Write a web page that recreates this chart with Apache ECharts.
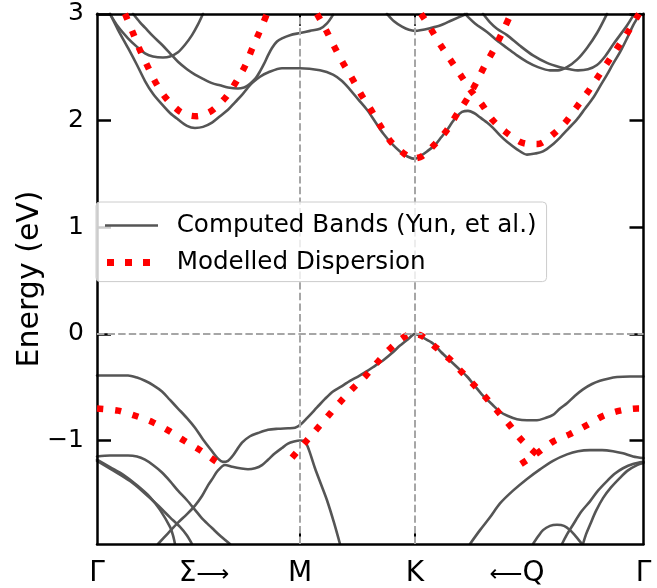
<!DOCTYPE html>
<html><head><meta charset="utf-8">
<script src="https://cdn.jsdelivr.net/npm/echarts@6/dist/echarts.min.js"></script>
<style>html,body{margin:0;padding:0;background:#fff}#c{width:657px;height:588px}</style>
</head><body><div id="c"></div>
<script>
// ---- axis / labels ----
const X_MAX = 5.465;
const tickPositions = [0, 1.07, 2.03, 3.18, 4.20, 5.465];
const tickNames = ['Γ', 'Σ{arr|⟶}', 'M', 'K', '{arr|⟵}Q', 'Γ'];
const symPoints = [2.03, 3.18];
const yTicks = [-1, 0, 1, 2, 3];
const Y_MIN = -1.97, Y_MAX = 3;

// ---- computed bands (Yun, et al.) : [k, E(eV)] ----
const cb1 = [[0.13,3.0],[0.21,2.85],[0.31,2.68],[0.40,2.52],[0.48,2.37],[0.56,2.25],[0.65,2.15],[0.73,2.07],[0.81,2.01],[0.90,1.95],[0.98,1.93],[1.06,1.94],[1.15,1.98],[1.23,2.04],[1.31,2.10],[1.38,2.17],[1.45,2.24],[1.51,2.31],[1.55,2.35],[1.63,2.41],[1.71,2.45],[1.85,2.49],[2.03,2.49],[2.23,2.47],[2.36,2.43],[2.45,2.37],[2.53,2.29],[2.61,2.20],[2.70,2.10],[2.78,1.99],[2.86,1.88],[2.95,1.78],[3.03,1.71],[3.11,1.66],[3.18,1.64],[3.23,1.665],[3.30,1.71],[3.38,1.77],[3.44,1.84],[3.50,1.91],[3.55,1.98],[3.60,2.04],[3.65,2.08],[3.71,2.09],[3.77,2.07],[3.83,2.03],[3.90,1.98],[3.96,1.93],[4.03,1.86],[4.10,1.80],[4.20,1.73],[4.30,1.68],[4.38,1.69],[4.46,1.71],[4.55,1.77],[4.63,1.84],[4.71,1.92],[4.80,2.01],[4.88,2.11],[4.96,2.21],[5.03,2.32],[5.10,2.43],[5.16,2.53],[5.23,2.64],[5.30,2.77],[5.36,2.89],[5.41,2.97],[5.43,3.0]];
const cb2 = [[0.36,3.0],[0.43,2.92],[0.48,2.87],[0.56,2.79],[0.65,2.71],[0.73,2.63],[0.81,2.55],[0.90,2.48],[0.98,2.43],[1.06,2.39],[1.15,2.35],[1.23,2.33],[1.31,2.31],[1.41,2.30],[1.47,2.31],[1.51,2.33],[1.55,2.36],[1.59,2.40],[1.63,2.46],[1.67,2.53],[1.71,2.61],[1.75,2.68],[1.80,2.74],[1.85,2.77],[1.93,2.80],[2.03,2.82],[2.13,2.84],[2.23,2.86],[2.30,2.91],[2.36,2.99]];
const cb3 = [[0.13,3.0],[0.21,2.88],[0.31,2.77],[0.40,2.69],[0.48,2.63],[0.56,2.60],[0.66,2.59],[0.73,2.60],[0.81,2.64],[0.88,2.71],[0.95,2.80],[1.01,2.90],[1.06,3.0]];
const cb4 = [[2.90,3.0],[2.97,2.93],[3.05,2.88],[3.12,2.85],[3.18,2.84],[3.23,2.845],[3.33,2.865],[3.43,2.89],[3.55,2.94],[3.70,3.0]];
const cb5 = [[3.68,3.0],[3.78,2.91],[3.90,2.83],[4.00,2.75],[4.10,2.68],[4.20,2.61],[4.30,2.55],[4.41,2.50],[4.53,2.47],[4.61,2.47],[4.70,2.50],[4.80,2.57],[4.90,2.68],[5.00,2.82],[5.10,3.0]];
const cb6 = [[3.86,3.0],[3.93,2.92],[4.00,2.86],[4.10,2.80],[4.23,2.70],[4.36,2.61],[4.50,2.54],[4.63,2.50],[4.73,2.48],[4.81,2.47],[4.91,2.48],[5.00,2.52],[5.08,2.60],[5.16,2.71],[5.23,2.80],[5.30,2.89],[5.36,2.98]];
const vb1 = [[0,-0.39],[0.13,-0.39],[0.31,-0.39],[0.40,-0.41],[0.48,-0.44],[0.56,-0.48],[0.65,-0.54],[0.73,-0.62],[0.81,-0.70],[0.90,-0.79],[0.98,-0.88],[1.06,-0.99],[1.15,-1.10],[1.21,-1.17],[1.26,-1.20],[1.31,-1.19],[1.36,-1.14],[1.45,-1.02],[1.53,-0.96],[1.61,-0.93],[1.71,-0.90],[1.81,-0.89],[1.91,-0.885],[1.98,-0.88],[2.03,-0.855],[2.10,-0.79],[2.20,-0.69],[2.28,-0.61],[2.36,-0.54],[2.45,-0.49],[2.53,-0.44],[2.61,-0.40],[2.70,-0.35],[2.78,-0.30],[2.86,-0.25],[2.95,-0.18],[3.03,-0.11],[3.11,-0.05],[3.18,0.0],[3.27,-0.04],[3.36,-0.09],[3.44,-0.17],[3.53,-0.25],[3.61,-0.32],[3.70,-0.40],[3.78,-0.49],[3.86,-0.58],[3.95,-0.66],[4.03,-0.73],[4.11,-0.77],[4.20,-0.80],[4.30,-0.81],[4.40,-0.81],[4.48,-0.79],[4.56,-0.76],[4.63,-0.70],[4.70,-0.65],[4.78,-0.58],[4.86,-0.52],[4.95,-0.47],[5.03,-0.44],[5.11,-0.42],[5.20,-0.405],[5.33,-0.40],[5.465,-0.40]];
const vb2 = [[0.61,-1.97],[0.71,-1.87],[0.81,-1.77],[0.90,-1.69],[0.98,-1.61],[1.05,-1.52],[1.11,-1.42],[1.16,-1.35],[1.21,-1.28],[1.28,-1.23],[1.35,-1.245],[1.43,-1.26],[1.51,-1.27],[1.58,-1.26],[1.65,-1.23],[1.71,-1.18],[1.78,-1.12],[1.85,-1.07],[1.91,-1.03],[1.97,-1.01],[2.03,-1.00],[2.08,-1.01],[2.12,-1.09],[2.18,-1.26],[2.24,-1.41],[2.30,-1.56],[2.37,-1.77],[2.43,-1.97]];
const vb3 = [[0,-1.15],[0.13,-1.14],[0.31,-1.14],[0.40,-1.15],[0.48,-1.18],[0.56,-1.23],[0.65,-1.30],[0.73,-1.38],[0.81,-1.47],[0.90,-1.56],[0.98,-1.65],[1.06,-1.74],[1.15,-1.82],[1.24,-1.90],[1.33,-1.97]];
const vb4 = [[0,-1.18],[0.13,-1.25],[0.26,-1.32],[0.40,-1.42],[0.53,-1.53],[0.63,-1.65],[0.73,-1.81],[0.76,-1.89],[0.78,-1.97]];
const vb5 = [[0,-1.19],[0.16,-1.28],[0.33,-1.38],[0.46,-1.48],[0.60,-1.60],[0.73,-1.72],[0.83,-1.81],[0.90,-1.89],[0.95,-1.97]];
const vb6 = [[3.73,-1.97],[3.83,-1.84],[3.93,-1.72],[4.03,-1.59],[4.16,-1.47],[4.30,-1.36],[4.43,-1.27],[4.56,-1.19],[4.70,-1.13],[4.81,-1.10],[4.93,-1.09],[5.05,-1.09],[5.16,-1.10],[5.26,-1.12],[5.36,-1.15],[5.465,-1.165]];
const vb7 = [[4.36,-1.97],[4.41,-1.90],[4.46,-1.84],[4.53,-1.80],[4.60,-1.79],[4.67,-1.80],[4.73,-1.84],[4.79,-1.90],[4.85,-1.97]];
const vb8 = [[4.65,-1.97],[4.70,-1.88],[4.76,-1.79],[4.84,-1.67],[4.93,-1.57],[5.01,-1.47],[5.10,-1.38],[5.18,-1.31],[5.26,-1.26],[5.36,-1.22],[5.465,-1.20]];
const vb9 = [[4.86,-1.97],[4.89,-1.88],[4.93,-1.79],[4.99,-1.66],[5.06,-1.54],[5.14,-1.44],[5.23,-1.35],[5.31,-1.28],[5.40,-1.23],[5.465,-1.21]];

// ---- modelled dispersion : [k, E(eV)] ----
const md1 = [[0.28,3.0],[0.36,2.82],[0.42,2.68],[0.51,2.50],[0.59,2.35],[0.69,2.21],[0.82,2.09],[0.91,2.05],[1.00,2.04],[1.08,2.06],[1.16,2.10],[1.29,2.22],[1.39,2.36],[1.48,2.51],[1.55,2.67],[1.62,2.82],[1.70,3.0]];
const md2 = [[2.20,3.0],[2.30,2.83],[2.38,2.68],[2.46,2.54],[2.56,2.38],[2.65,2.23],[2.74,2.10],[2.84,1.94],[2.94,1.80],[3.07,1.69],[3.17,1.645],[3.25,1.665],[3.38,1.78],[3.50,1.91],[3.60,2.06],[3.70,2.20],[3.79,2.35],[3.87,2.50],[3.96,2.65],[4.04,2.80],[4.14,3.0]];
const md3 = [[3.24,3.0],[3.35,2.84],[3.44,2.70],[3.54,2.56],[3.64,2.42],[3.74,2.28],[3.85,2.15],[3.96,2.00],[4.09,1.89],[4.23,1.80],[4.32,1.78],[4.41,1.78],[4.56,1.87],[4.69,1.99],[4.80,2.13],[4.91,2.27],[5.01,2.41],[5.11,2.55],[5.21,2.69],[5.31,2.83],[5.42,3.0]];
const md4 = [[0,-0.70],[0.21,-0.72],[0.39,-0.77],[0.56,-0.83],[0.72,-0.91],[0.87,-1.00],[1.03,-1.09],[1.18,-1.19],[1.22,-1.215]];
const md5 = [[1.95,-1.16],[2.08,-1.02],[2.20,-0.89],[2.32,-0.76],[2.44,-0.63],[2.56,-0.51],[2.69,-0.39],[2.81,-0.26],[2.93,-0.14],[3.07,-0.03],[3.16,0.0],[3.25,-0.02],[3.38,-0.12],[3.53,-0.24],[3.65,-0.36],[3.77,-0.48],[3.90,-0.61],[4.02,-0.74],[4.13,-0.86],[4.25,-1.00],[4.41,-1.14]];
const md6 = [[4.24,-1.22],[4.40,-1.12],[4.56,-1.01],[4.73,-0.94],[4.89,-0.86],[5.06,-0.77],[5.23,-0.72],[5.41,-0.70],[5.465,-0.70]];

const NAME_C = 'Computed Bands (Yun, et al.)';
const NAME_M = 'Modelled Dispersion';
const computedBands = [cb1, cb2, cb3, cb4, cb5, cb6, vb1, vb2, vb3, vb4, vb5, vb6, vb7, vb8, vb9];
const modelledBands = [md1, md2, md3, md4, md5, md6];

const FONT = 'DejaVu Sans';
const series = [];
series.push({
  type: 'line', data: [[0, 0]], z: 1, symbol: 'none', silent: true,
  lineStyle: { opacity: 0 },
  markLine: {
    silent: true, symbol: 'none', animation: false, label: { show: false },
    lineStyle: { color: '#a6a6a6', type: [7.4, 3.2], width: 2 },
    emphasis: { disabled: true },
    data: [{ xAxis: symPoints[0] }, { xAxis: symPoints[1] }, { yAxis: 0 }]
  }
});
computedBands.forEach(d => series.push({
  name: NAME_C, type: 'line', data: d, z: 2, symbol: 'none', smooth: 0.3,
  color: '#555555', lineStyle: { color: '#555555', width: 2.6, cap: 'round' },
  emphasis: { disabled: true }
}));
modelledBands.forEach(d => series.push({
  name: NAME_M, type: 'line', data: d, z: 3, symbol: 'none', smooth: 0.3,
  color: '#ff0000', lineStyle: { color: '#ff0000', width: 6.5, type: [6.5, 11.5], cap: 'butt' },
  emphasis: { disabled: true }
}));

const iconLine = 'path://M0,0L0,0M66.7,24L66.7,24M0,10.7H53V13.3H0Z';
const iconDots = 'path://M0,0L0,0M66.7,24L66.7,24M2,8.5H9V15.5H2Z M20,8.5H27V15.5H20Z M38,8.5H45V15.5H38Z';

const frame = { show: true, onZero: false, lineStyle: { color: '#000', width: 2.5 } };
const option = {
  animation: false,
  textStyle: { fontFamily: FONT },
  grid: { left: 97, right: 13.5, top: 13.8, bottom: 41.3, containLabel: false },
  legend: {
    orient: 'vertical', left: 96, top: 202, z: 10,
    padding: [11, 10, 6.6, 9], itemGap: 12, itemWidth: 66.7, itemHeight: 24,
    backgroundColor: 'rgba(255,255,255,0.8)', borderColor: '#cccccc', borderWidth: 1, borderRadius: 4,
    selectedMode: false,
    itemStyle: { borderWidth: 0 },
    textStyle: { fontSize: 24.6, lineHeight: 24, color: '#000', fontFamily: FONT },
    data: [{ name: NAME_C, icon: iconLine }, { name: NAME_M, icon: iconDots }]
  },
  xAxis: [{
    type: 'value', min: 0, max: X_MAX, position: 'bottom', z: 3,
    axisLine: frame,
    axisTick: { show: true, inside: true, length: 12, customValues: symPoints, lineStyle: { color: '#000', width: 2 } },
    axisLabel: {
      show: true, customValues: tickPositions, margin: 16, fontSize: 28, color: '#000', fontFamily: FONT,
      formatter: v => { const i = tickPositions.findIndex(p => Math.abs(p - v) < 1e-6); return i >= 0 ? tickNames[i] : ''; },
      rich: { arr: { fontSize: 23, fontFamily: FONT, color: '#000', padding: [2, 0, 0, 0] } }
    },
    splitLine: { show: false }
  }, {
    type: 'value', min: 0, max: X_MAX, position: 'top', z: 3,
    axisLine: frame,
    axisTick: { show: true, inside: true, length: 12, customValues: symPoints, lineStyle: { color: '#000', width: 2 } },
    axisLabel: { show: false }, splitLine: { show: false }
  }],
  yAxis: [{
    type: 'value', min: Y_MIN, max: Y_MAX, position: 'left', z: 3,
    name: 'Energy (eV)', nameLocation: 'middle', nameGap: 52, nameMoveOverlap: false,
    nameTextStyle: { fontSize: 30, color: '#000', fontFamily: FONT },
    axisLine: frame,
    axisTick: { show: true, inside: true, length: 14, customValues: yTicks, lineStyle: { color: '#000', width: 2.5 } },
    axisLabel: {
      show: true, customValues: yTicks, margin: 13, fontSize: 25, color: '#000', fontFamily: FONT,
      formatter: v => (v < 0 ? '\u2212' + Math.abs(v) : String(v))
    },
    splitLine: { show: false }
  }, {
    type: 'value', min: Y_MIN, max: Y_MAX, position: 'right', z: 3,
    axisLine: frame,
    axisTick: { show: true, inside: true, length: 14, customValues: yTicks, lineStyle: { color: '#000', width: 2.5 } },
    axisLabel: { show: false }, splitLine: { show: false }
  }],
  series: series
};
const chart = echarts.init(document.getElementById('c'), null, { renderer: 'canvas' });
chart.setOption(option);
</script></body></html>
